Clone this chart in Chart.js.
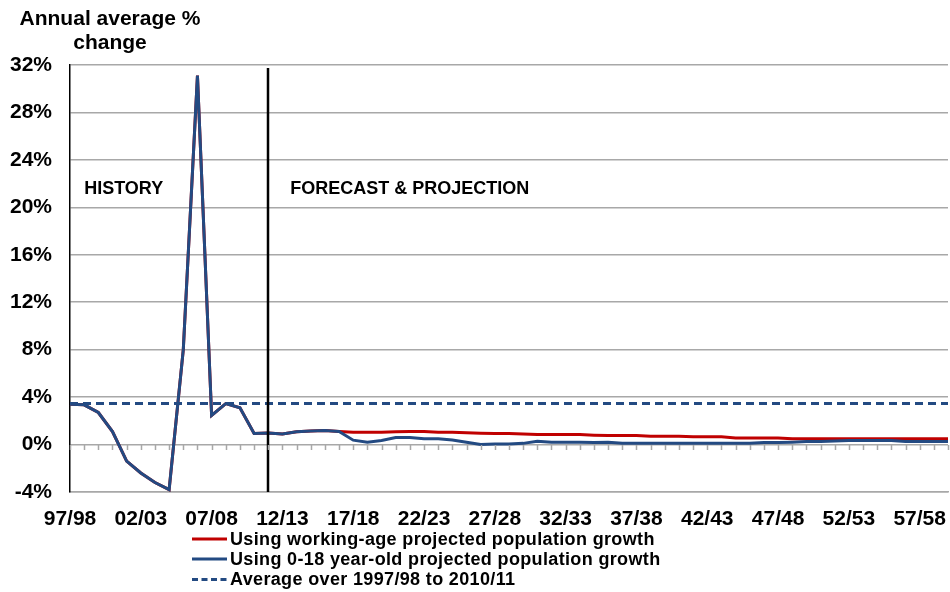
<!DOCTYPE html>
<html>
<head>
<meta charset="utf-8">
<title>Annual average % change</title>
<script src="https://cdn.jsdelivr.net/npm/chart.js@4/dist/chart.umd.min.js"></script>
<style>
  html, body { margin: 0; padding: 0; background: #ffffff; }
  canvas { display: block; }
</style>
</head>
<body>
<canvas id="chart" width="950" height="592"></canvas>
<script>
// Financial years 1997/98 to 2059/60
const years = [
  '97/98','98/99','99/00','00/01','01/02','02/03','03/04','04/05','05/06','06/07',
  '07/08','08/09','09/10','10/11','11/12','12/13','13/14','14/15','15/16','16/17',
  '17/18','18/19','19/20','20/21','21/22','22/23','23/24','24/25','25/26','26/27',
  '27/28','28/29','29/30','30/31','31/32','32/33','33/34','34/35','35/36','36/37',
  '37/38','38/39','39/40','40/41','41/42','42/43','43/44','44/45','45/46','46/47',
  '47/48','48/49','49/50','50/51','51/52','52/53','53/54','54/55','55/56','56/57',
  '57/58','58/59','59/60'
];

// Annual average % change, working-age population growth basis
const workingAge = [
  3.4, 3.35, 2.7, 1.1, -1.4, -2.4, -3.2, -3.8, 8.0, 31.1,
  2.45, 3.45, 3.1, 0.93, 0.98, 0.9, 1.07, 1.15, 1.18, 1.1,
  1.04, 1.04, 1.04, 1.07, 1.1, 1.1, 1.04, 1.04, 1.0, 0.96,
  0.93, 0.93, 0.9, 0.84, 0.84, 0.84, 0.84, 0.79, 0.76, 0.76,
  0.76, 0.7, 0.7, 0.7, 0.65, 0.65, 0.65, 0.56, 0.56, 0.56,
  0.56, 0.48, 0.48, 0.48, 0.48, 0.48, 0.48, 0.48, 0.48, 0.48,
  0.48, 0.48, 0.48
];

// Annual average % change, 0-18 year-old population growth basis
const youngPop = [
  3.4, 3.35, 2.7, 1.1, -1.4, -2.4, -3.2, -3.8, 8.0, 31.1,
  2.45, 3.45, 3.1, 0.93, 0.98, 0.9, 1.07, 1.15, 1.18, 1.1,
  0.37, 0.2, 0.34, 0.59, 0.59, 0.48, 0.48, 0.39, 0.2, 0.0,
  0.05, 0.05, 0.1, 0.28, 0.2, 0.2, 0.2, 0.17, 0.2, 0.11,
  0.11, 0.11, 0.11, 0.11, 0.11, 0.11, 0.11, 0.11, 0.11, 0.17,
  0.17, 0.2, 0.25, 0.25, 0.31, 0.34, 0.34, 0.34, 0.34, 0.25,
  0.25, 0.25, 0.25
];

// Mean over 1997/98 to 2010/11
const historicAverage = 3.46;
const averageLine = years.map(() => historicAverage);

// Value axis ticks (%)
const yTicks = [-4, 0, 4, 8, 12, 16, 20, 24, 28, 32];

// First forecast year (position of the divider)
const forecastStart = '11/12';

const FONT = '"Liberation Sans", Arial, Helvetica, sans-serif';
const BLUE = '#234a82';
const RED = '#c00000';
const GRID = '#a8a8a8';

// Headings, divider and the 0% tick marks
const decorations = {
  id: 'decorations',
  afterDraw(chart) {
    const ctx = chart.ctx;
    const x = chart.scales.x;
    const y = chart.scales.y;
    const area = chart.chartArea;
    ctx.save();

    // axis title, two centred lines
    ctx.fillStyle = '#000';
    ctx.font = 'bold 21px ' + FONT;
    ctx.textAlign = 'center';
    ctx.textBaseline = 'alphabetic';
    ctx.fillText('Annual average %', 110, 25);
    ctx.fillText('change', 110, 49);

    // history / forecast divider
    const xd = Math.round(x.getPixelForValue(years.indexOf(forecastStart)));
    ctx.strokeStyle = '#000';
    ctx.lineWidth = 2.5;
    ctx.beginPath();
    ctx.moveTo(xd, area.top + 3);
    ctx.lineTo(xd, area.bottom);
    ctx.stroke();

    // section labels
    ctx.font = 'bold 18px ' + FONT;
    ctx.textAlign = 'left';
    ctx.fillText('HISTORY', x.getPixelForValue(1), y.getPixelForValue(21.1));
    ctx.fillText('FORECAST & PROJECTION', x.getPixelForValue(15.55), y.getPixelForValue(21.1));

    // tick marks hanging below the 0% line
    const y0 = Math.round(y.getPixelForValue(0));
    ctx.strokeStyle = GRID;
    ctx.lineWidth = 1.5;
    ctx.beginPath();
    for (let i = 0; i < years.length; i++) {
      const xi = Math.round(x.getPixelForValue(i)) + 0.5;
      ctx.moveTo(xi, y0);
      ctx.lineTo(xi, y0 + 5);
    }
    ctx.stroke();
    ctx.restore();
  }
};

// Stacked legend under the axis labels
const stackedLegend = {
  id: 'stackedLegend',
  afterDraw(chart) {
    const ctx = chart.ctx;
    const rows = [539, 559, 579.5];
    ctx.save();
    ctx.font = 'bold 18px ' + FONT;
    ctx.letterSpacing = '0.35px';
    ctx.textAlign = 'left';
    ctx.textBaseline = 'middle';
    chart.data.datasets.forEach((ds, i) => {
      const yy = rows[i];
      ctx.strokeStyle = ds.borderColor;
      ctx.lineWidth = 3;
      ctx.setLineDash(ds.borderDash ? [6, 3.5] : []);
      ctx.beginPath();
      ctx.moveTo(192, yy);
      ctx.lineTo(227, yy);
      ctx.stroke();
      ctx.setLineDash([]);
      ctx.fillStyle = '#000';
      ctx.fillText(ds.label, 230, yy + 1);
    });
    ctx.letterSpacing = '0px';
    ctx.restore();
  }
};

new Chart(document.getElementById('chart'), {
  type: 'line',
  data: {
    labels: years,
    datasets: [
      {
        label: 'Using working-age projected population growth',
        data: workingAge,
        borderColor: RED,
        backgroundColor: RED,
        borderWidth: 3,
        pointRadius: 0,
        tension: 0,
        order: 2
      },
      {
        label: 'Using 0-18 year-old projected population growth',
        data: youngPop,
        borderColor: BLUE,
        backgroundColor: BLUE,
        borderWidth: 3,
        pointRadius: 0,
        tension: 0,
        order: 1
      },
      {
        label: 'Average over 1997/98 to 2010/11',
        data: averageLine,
        borderColor: BLUE,
        backgroundColor: BLUE,
        borderWidth: 3,
        borderDash: [8, 5],
        pointRadius: 0,
        tension: 0,
        order: 0
      }
    ]
  },
  options: {
    responsive: false,
    animation: false,
    events: [],
    layout: { padding: { top: 65, right: 2, bottom: 60, left: 0 } },
    plugins: {
      legend: { display: false },
      title: { display: false },
      tooltip: { enabled: false }
    },
    scales: {
      x: {
        type: 'category',
        offset: false,
        afterFit(scale) {
          scale.height = 40;
          scale.paddingRight = 0;
          scale.paddingLeft = 0;
        },
        grid: { display: false, drawTicks: false },
        border: { display: true, color: GRID, width: 1.5 },
        ticks: {
          autoSkip: false,
          maxRotation: 0,
          minRotation: 0,
          padding: 15,
          color: '#000',
          font: { family: FONT, size: 21, weight: 'bold' },
          callback: (v, i) => (i % 5 === 0 ? years[i] : '')
        }
      },
      y: {
        min: yTicks[0],
        max: yTicks[yTicks.length - 1],
        afterFit(scale) { scale.width = 70; },
        afterBuildTicks(scale) { scale.ticks = yTicks.map(v => ({ value: v })); },
        grid: { color: GRID, lineWidth: 1.5, drawTicks: false },
        border: { display: true, color: '#000', width: 1.5 },
        ticks: {
          padding: 18,
          color: '#000',
          font: { family: FONT, size: 21, weight: 'bold' },
          callback: v => v + '%'
        }
      }
    }
  },
  plugins: [decorations, stackedLegend]
});
</script>
</body>
</html>
